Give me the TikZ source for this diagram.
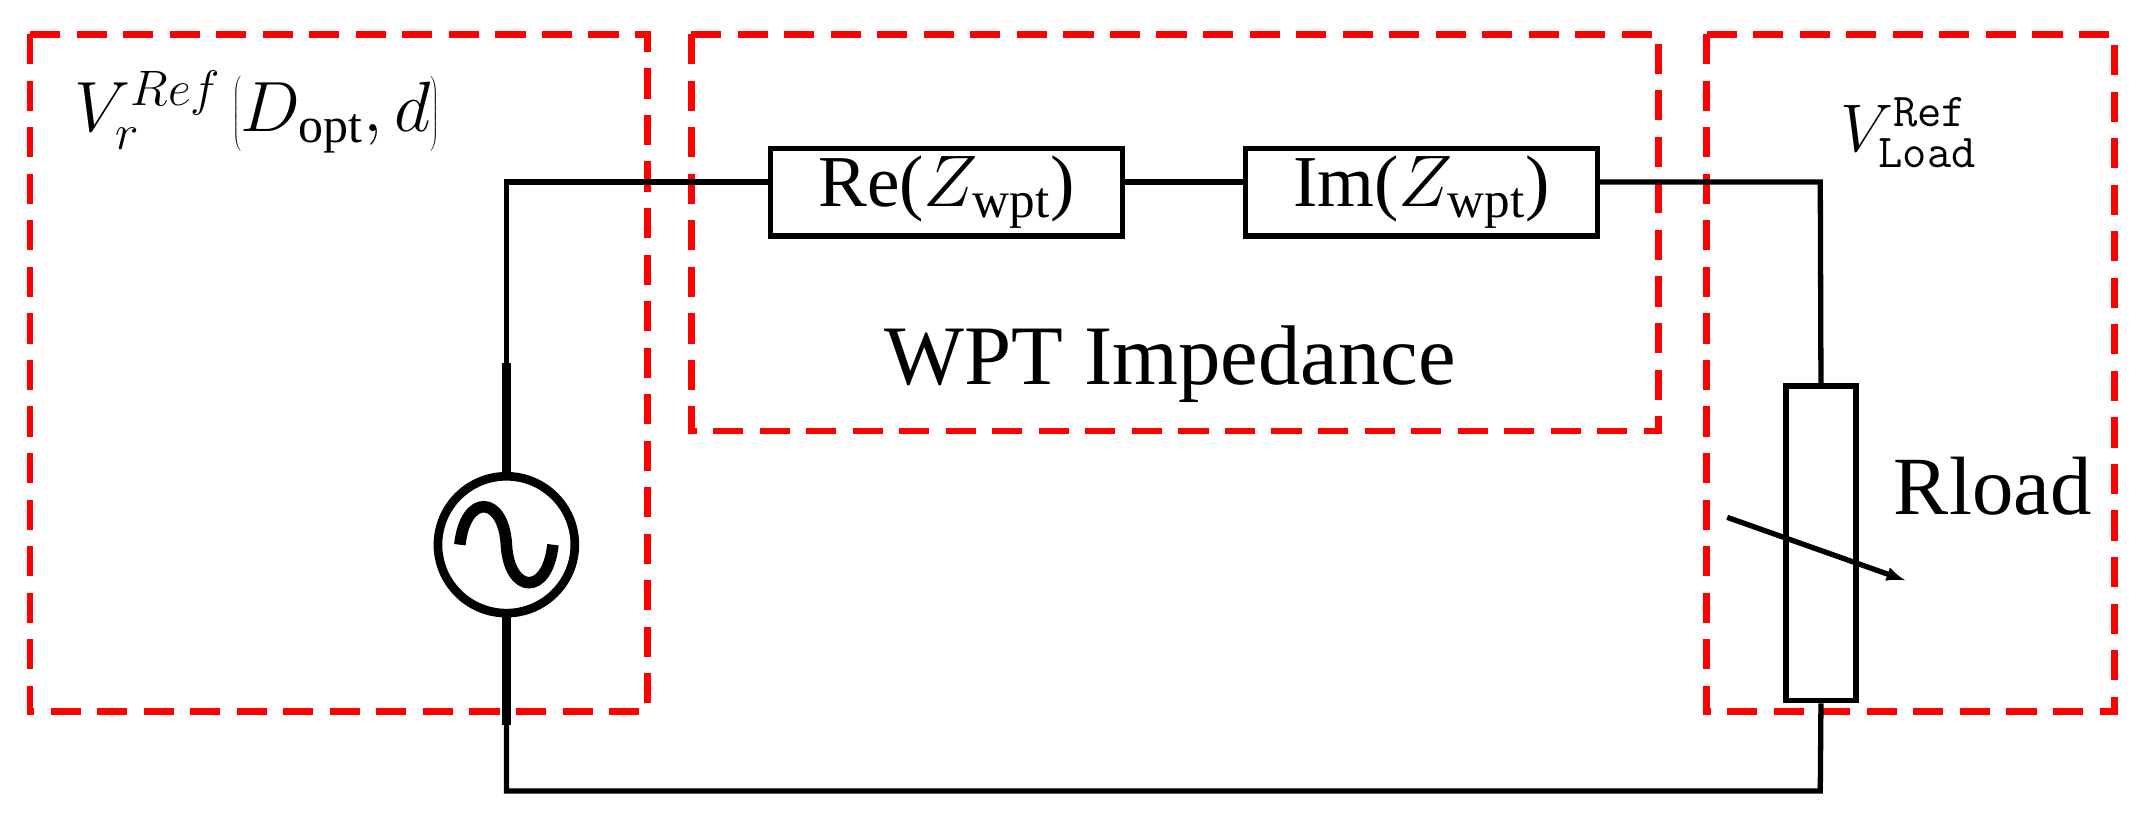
\documentclass[tikz,border=0pt]{standalone}
\usepackage{fix-cm}
\usepackage{fontspec}
\setmainfont{Liberation Serif}
\begin{document}
\begin{tikzpicture}[x=0.5mm,y=-0.5mm,
  wire/.style={line width=5.5pt},
  box/.style={draw,line width=5.5pt,fill=white,minimum width=128.5mm,minimum height=32mm,inner sep=0pt,font=\fontsize{76}{84}\selectfont},
  reg/.style={draw=red,line width=7pt,dash pattern=on 11mm off 6mm}]
\useasboundingbox (0,0) rectangle (1568,598);
\draw[reg] (22,25) rectangle (473,520);
\draw[reg] (505,25) rectangle (1212,315);
\draw[reg] (1247,25) rectangle (1545,520);
\coordinate (tl) at (370,133); \coordinate (tr) at (1330,133);
\coordinate (bl) at (370,578); \coordinate (br) at (1330,578);
\node[box] (re) at (691.5,140.5) {Re($Z_{\mathrm{wpt}}$)};
\node[box] (im) at (1038.5,140.5) {Im($Z_{\mathrm{wpt}}$)};
\node[draw,line width=9pt,circle,minimum size=50mm,inner sep=0pt] (src) at (370,398) {};
\node[draw,line width=5.5pt,minimum width=25.5mm,minimum height=115mm,inner sep=0pt] (rl) at (1330.5,397) {};
\draw[wire] (src.north) -- (tl) -- (tl -| re.west);
\draw[wire] (tl -| re.east) -- (tl -| im.west);
\draw[wire] (tl -| im.east) -- (tr) -- (rl.north);
\draw[wire] (rl.south) -- (br) -- (bl) -- (src.south);
\draw[line width=10pt] (370,265) -- (src.north);
\draw[line width=10pt] (370,530) -- (src.south);
\draw[line width=12pt] (336,398) .. controls (340,360) and (368,362) .. (370,398) .. controls (372,434) and (400,436) .. (404,398);
\draw[line width=5.5pt,-latex] (1262,378) -- (1392,424);
\node[font=\fontsize{86}{92}\selectfont] (rt) at (1456,355) {Rload};
\node[font=\fontsize{88}{96}\selectfont] (wt) at (855,266) {WPT Impedance};
\node[font=\fontsize{74}{80}\selectfont,anchor=west] (vr) at (52,82) {$V_r^{Ref}\left(D_{\mathrm{opt}},d\right)$};
\node[font=\fontsize{70}{76}\selectfont,anchor=west] (vl) at (1342,97) {$V_{\mathtt{Load}}^{\mathtt{Ref}}$};
\end{tikzpicture}
\end{document}
